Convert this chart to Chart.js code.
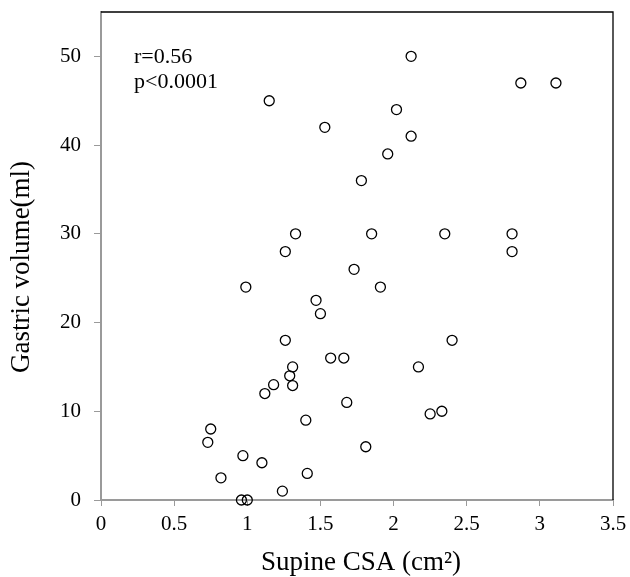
<!DOCTYPE html>
<html>
<head>
<meta charset="utf-8">
<script src="https://cdn.jsdelivr.net/npm/chart.js@4/dist/chart.umd.min.js"></script>
<style>
  html, body { margin: 0; padding: 0; background: #fff; }
  #wrap { width: 630px; height: 577px; }
</style>
</head>
<body>
<div id="wrap"><canvas id="scatter" width="630" height="577"></canvas></div>
<script>
// Supine CSA (cm2) vs gastric volume (ml)
const csaValues = [2.12, 2.87, 3.11, 1.15, 2.02, 1.53, 2.12, 1.96, 1.78, 1.33,
  1.85, 2.35, 2.81, 1.26, 2.81, 1.73, 0.99, 1.91, 1.47, 1.50,
  1.26, 2.40, 1.57, 1.66, 1.31, 2.17, 1.29, 1.18, 1.31, 1.12,
  1.68, 2.33, 2.25, 1.40, 0.75, 0.73, 1.81, 0.97, 1.10, 1.41,
  0.82, 1.24, 0.96, 1.00];
const volumeValues = [50, 47, 47, 45, 44, 42, 41, 39, 36, 30,
  30, 30, 30, 28, 28, 26, 24, 24, 22.5, 21,
  18, 18, 16, 16, 15, 15, 14, 13, 12.9, 12,
  11, 10, 9.7, 9, 8, 6.5, 6, 5, 4.2, 3,
  2.5, 1, 0, 0];
const xTicks = [0, 0.5, 1, 1.5, 2, 2.5, 3, 3.5];
const yTicks = [0, 10, 20, 30, 40, 50];
const statLines = ['r=0.56', 'p<0.0001'];
const xTitle = 'Supine CSA (cm²)';
const yTitle = 'Gastric volume(ml)';

const serif = '"Liberation Serif", "Times New Roman", serif';
const axisGray = '#9a9a9a';

const points = csaValues.map((x, i) => ({ x: x, y: volumeValues[i] }));

// black frame on top/right, r/p text, axis titles
const framePlugin = {
  id: 'frame',
  afterDraw(chart) {
    const { ctx, chartArea } = chart;
    ctx.save();
    ctx.strokeStyle = '#000';
    ctx.lineWidth = 1.3;
    ctx.beginPath();
    ctx.moveTo(chartArea.left, chartArea.top);
    ctx.lineTo(chartArea.right, chartArea.top);
    ctx.lineTo(chartArea.right, chartArea.bottom);
    ctx.stroke();

    ctx.fillStyle = '#000';
    ctx.font = '22px ' + serif;
    ctx.textBaseline = 'middle';
    ctx.textAlign = 'left';
    statLines.forEach((t, i) => {
      ctx.fillText(t, chartArea.left + 33, chartArea.top + 45 + i * 25);
    });

    ctx.font = '27px ' + serif;
    ctx.textAlign = 'center';
    ctx.fillText(xTitle, 361, 563);

    ctx.translate(22, 267);
    ctx.rotate(-Math.PI / 2);
    ctx.fillText(yTitle, 0, 0);
    ctx.restore();
  }
};

new Chart(document.getElementById('scatter').getContext('2d'), {
  type: 'scatter',
  data: {
    datasets: [{
      data: points,
      pointStyle: 'circle',
      pointRadius: 5,
      pointHoverRadius: 5,
      borderColor: '#000',
      borderWidth: 1.3,
      backgroundColor: 'rgba(0,0,0,0)',
      clip: false
    }]
  },
  options: {
    responsive: false,
    devicePixelRatio: 1,
    animation: false,
    layout: { padding: { top: 12, right: 17, left: 0, bottom: 0 } },
    plugins: {
      legend: { display: false },
      tooltip: { enabled: false }
    },
    scales: {
      x: {
        type: 'linear',
        min: 0,
        max: 3.5,
        afterBuildTicks: (axis) => { axis.ticks = xTicks.map(v => ({ value: v })); },
        afterFit: (axis) => {
          axis.height = 77;
          axis.paddingLeft = 0;
          axis.paddingRight = 0;
        },
        grid: { drawOnChartArea: false, drawTicks: true, tickLength: 6, color: axisGray },
        border: { color: axisGray, width: 2 },
        ticks: {
          padding: 6,
          color: '#000',
          font: { family: serif, size: 21 },
          maxRotation: 0,
          callback: (v) => String(v)
        }
      },
      y: {
        type: 'linear',
        min: 0,
        max: 55,
        afterBuildTicks: (axis) => { axis.ticks = yTicks.map(v => ({ value: v })); },
        afterFit: (axis) => {
          axis.width = 101;
          axis.paddingTop = 0;
          axis.paddingBottom = 0;
        },
        grid: { drawOnChartArea: false, drawTicks: true, tickLength: 7, color: axisGray },
        border: { color: axisGray, width: 2 },
        ticks: {
          padding: 13,
          color: '#000',
          font: { family: serif, size: 21 }
        }
      }
    }
  },
  plugins: [framePlugin]
});
</script>
</body>
</html>
